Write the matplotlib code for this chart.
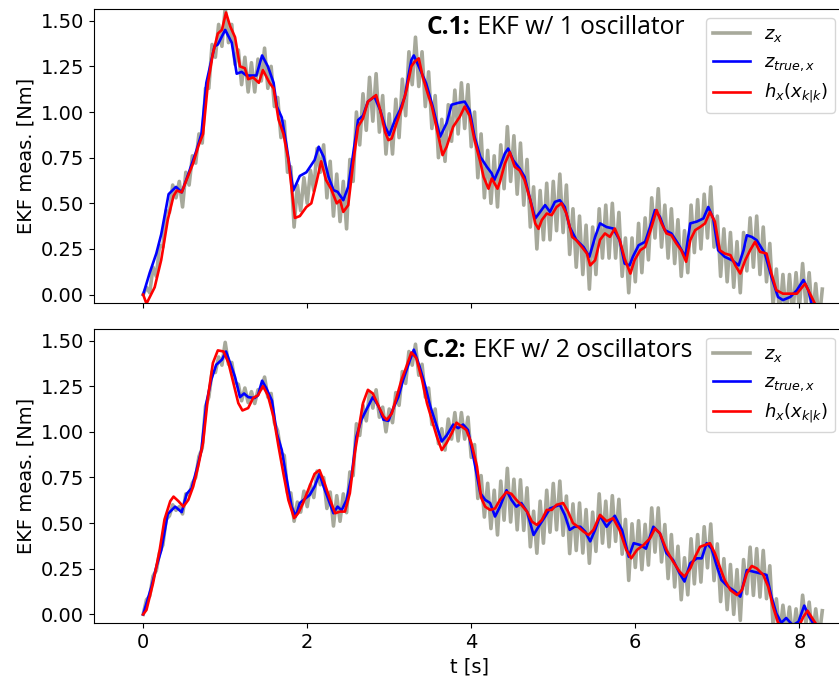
import numpy as np
import matplotlib
matplotlib.use("Agg")
import matplotlib.pyplot as plt

plt.rcParams['font.size'] = 14

# ---- panel C.1 (1 oscillator) ----
# z_true,x  (t [s], value [Nm])
true_1 = [(0.00, 0.00), (0.08, 0.12), (0.16, 0.225), (0.22, 0.33), (0.31, 0.55), (0.40, 0.59), (0.47, 0.56),
          (0.55, 0.66), (0.65, 0.79), (0.71, 0.88), (0.77, 1.16), (0.87, 1.36), (0.91, 1.37), (1.00, 1.45),
          (1.08, 1.38), (1.14, 1.21), (1.20, 1.22), (1.26, 1.20), (1.38, 1.20), (1.45, 1.31), (1.52, 1.25),
          (1.59, 1.16), (1.63, 1.03), (1.69, 0.97), (1.75, 0.81), (1.83, 0.57), (1.91, 0.65), (1.99, 0.67),
          (2.09, 0.737), (2.14, 0.81), (2.20, 0.755), (2.26, 0.645), (2.32, 0.572), (2.37, 0.563), (2.44, 0.517),
          (2.50, 0.59), (2.56, 0.77), (2.62, 0.956), (2.68, 0.98), (2.74, 1.057), (2.82, 1.084), (2.89, 1.01),
          (2.95, 0.92), (3.00, 0.874), (3.07, 0.956), (3.13, 1.01), (3.19, 1.084), (3.23, 1.19), (3.27, 1.285),
          (3.30, 1.31), (3.35, 1.26), (3.45, 1.157), (3.53, 1.03), (3.62, 0.865), (3.70, 0.94), (3.76, 1.04),
          (3.84, 1.05), (3.92, 1.057), (3.98, 1.01), (4.04, 0.865), (4.11, 0.755), (4.19, 0.70), (4.25, 0.664),
          (4.28, 0.627), (4.35, 0.70), (4.41, 0.773), (4.45, 0.80), (4.51, 0.737), (4.59, 0.69), (4.65, 0.645),
          (4.72, 0.517), (4.78, 0.417), (4.84, 0.453), (4.90, 0.49), (4.96, 0.453), (5.02, 0.508), (5.08, 0.517),
          (5.14, 0.48), (5.20, 0.37), (5.28, 0.30), (5.37, 0.26), (5.44, 0.207), (5.51, 0.316), (5.57, 0.39),
          (5.65, 0.37), (5.73, 0.362), (5.81, 0.298), (5.87, 0.17), (5.93, 0.16), (5.97, 0.207), (6.04, 0.27),
          (6.12, 0.289), (6.18, 0.37), (6.24, 0.463), (6.30, 0.426), (6.36, 0.353), (6.44, 0.335), (6.52, 0.28),
          (6.61, 0.207), (6.67, 0.39), (6.75, 0.40), (6.83, 0.417), (6.89, 0.48), (6.95, 0.417), (7.01, 0.243),
          (7.09, 0.207), (7.18, 0.188), (7.26, 0.16), (7.32, 0.243), (7.36, 0.325), (7.42, 0.316), (7.48, 0.298),
          (7.58, 0.225), (7.66, 0.097), (7.74, -0.013), (7.80, -0.03), (7.89, -0.013), (7.97, 0.024), (8.05, 0.08),
          (8.11, 0.024), (8.15, -0.05)]

# h_x(x_k|k)
est_1 = [(0.00, 0.00), (0.04, -0.05), (0.14, 0.04), (0.22, 0.19), (0.30, 0.41), (0.37, 0.54), (0.41, 0.57),
         (0.47, 0.56), (0.53, 0.63), (0.61, 0.72), (0.67, 0.81), (0.73, 0.88), (0.79, 1.16), (0.85, 1.32),
         (0.91, 1.43), (0.96, 1.45), (1.01, 1.545), (1.06, 1.47), (1.12, 1.41), (1.18, 1.25), (1.24, 1.24),
         (1.28, 1.18), (1.34, 1.19), (1.41, 1.16), (1.46, 1.23), (1.54, 1.16), (1.59, 1.13), (1.65, 0.96),
         (1.71, 0.88), (1.77, 0.74), (1.85, 0.42), (1.91, 0.43), (1.99, 0.48), (2.05, 0.50), (2.11, 0.61),
         (2.17, 0.73), (2.23, 0.627), (2.29, 0.58), (2.36, 0.50), (2.40, 0.517), (2.44, 0.453), (2.50, 0.49),
         (2.56, 0.72), (2.62, 0.92), (2.68, 0.965), (2.74, 1.057), (2.79, 1.075), (2.84, 1.093), (2.89, 1.01),
         (2.95, 0.89), (2.99, 0.846), (3.03, 0.855), (3.09, 0.94), (3.15, 1.02), (3.21, 1.12), (3.27, 1.25),
         (3.31, 1.276), (3.36, 1.294), (3.41, 1.19), (3.47, 1.10), (3.52, 1.03), (3.60, 0.865), (3.65, 0.764),
         (3.70, 0.81), (3.78, 0.92), (3.86, 0.974), (3.92, 1.03), (3.98, 0.98), (4.04, 0.846), (4.11, 0.727),
         (4.15, 0.645), (4.21, 0.58), (4.25, 0.636), (4.32, 0.58), (4.35, 0.618), (4.41, 0.718), (4.47, 0.78),
         (4.53, 0.70), (4.59, 0.68), (4.65, 0.627), (4.72, 0.517), (4.78, 0.39), (4.82, 0.36), (4.86, 0.408),
         (4.92, 0.444), (4.98, 0.435), (5.04, 0.48), (5.10, 0.50), (5.16, 0.444), (5.23, 0.316), (5.28, 0.298),
         (5.35, 0.26), (5.41, 0.225), (5.45, 0.16), (5.51, 0.188), (5.57, 0.30), (5.63, 0.335), (5.69, 0.316),
         (5.75, 0.362), (5.81, 0.298), (5.87, 0.197), (5.94, 0.115), (5.99, 0.188), (6.06, 0.243), (6.12, 0.261),
         (6.18, 0.344), (6.26, 0.463), (6.32, 0.39), (6.38, 0.335), (6.44, 0.325), (6.50, 0.28), (6.56, 0.243),
         (6.62, 0.18), (6.67, 0.298), (6.73, 0.353), (6.79, 0.37), (6.85, 0.39), (6.91, 0.453), (6.97, 0.40),
         (7.03, 0.243), (7.09, 0.225), (7.16, 0.216), (7.22, 0.16), (7.28, 0.115), (7.34, 0.188), (7.40, 0.243),
         (7.46, 0.289), (7.52, 0.234), (7.60, 0.225), (7.66, 0.115), (7.72, 0.024), (7.80, 0.005), (7.89, 0.005),
         (7.97, 0.005), (8.07, 0.06), (8.13, 0.005), (8.19, -0.05)]

# z_x, sampled every 0.04 s (peaks / troughs of the fast oscillation)
meas_1 = [0.00, 0.04, 0.01, 0.15, 0.10, 0.27, 0.26, 0.46, 0.45, 0.60, 0.53, 0.62, 0.48, 0.67, 0.60, 0.76,
          0.72, 0.88, 0.83, 1.13, 1.13, 1.37, 1.30, 1.48, 1.36, 1.57, 1.38, 1.48, 1.26, 1.34, 1.15, 1.30,
          1.11, 1.27, 1.11, 1.29, 1.17, 1.35, 1.13, 1.25, 1.03, 1.08, 0.86, 0.95, 0.67, 0.70, 0.37, 0.60,
          0.46, 0.64, 0.50, 0.68, 0.57, 0.80, 0.67, 0.82, 0.53, 0.73, 0.43, 0.66, 0.40, 0.62, 0.36, 0.74,
          0.62, 1.00, 0.82, 1.10, 0.90, 1.19, 0.95, 1.21, 0.89, 1.09, 0.77, 0.99, 0.77, 1.07, 0.86, 1.18,
          0.98, 1.33, 1.15, 1.41, 1.14, 1.33, 1.03, 1.22, 0.91, 1.09, 0.75, 0.96, 0.73, 1.04, 0.84, 1.12,
          0.88, 1.16, 0.91, 1.15, 0.81, 1.00, 0.64, 0.88, 0.53, 0.79, 0.50, 0.76, 0.48, 0.82, 0.58, 0.92,
          0.62, 0.87, 0.55, 0.83, 0.49, 0.74, 0.37, 0.59, 0.25, 0.57, 0.30, 0.61, 0.30, 0.62, 0.35, 0.66,
          0.34, 0.60, 0.22, 0.47, 0.15, 0.43, 0.11, 0.38, 0.03, 0.37, 0.11, 0.47, 0.20, 0.49, 0.20, 0.50,
          0.20, 0.45, 0.10, 0.31, 0.01, 0.31, 0.07, 0.39, 0.12, 0.42, 0.19, 0.53, 0.31, 0.58, 0.26, 0.49,
          0.20, 0.47, 0.17, 0.41, 0.10, 0.35, 0.12, 0.49, 0.23, 0.52, 0.25, 0.55, 0.31, 0.59, 0.26, 0.43,
          0.10, 0.36, 0.07, 0.34, 0.04, 0.29, 0.01, 0.34, 0.13, 0.42, 0.15, 0.43, 0.11, 0.37, 0.07, 0.28,
          -0.06, 0.14, -0.12, 0.11, -0.13, 0.11, -0.11, 0.12, -0.08, 0.17, -0.06, 0.12, -0.14, 0.06, -0.15, 0.03]

# ---- panel C.2 (2 oscillators) ----
true_2 = [(0.00, 0.00), (0.10, 0.15), (0.16, 0.26), (0.22, 0.35), (0.30, 0.55), (0.39, 0.59), (0.47, 0.56),
          (0.53, 0.66), (0.59, 0.69), (0.65, 0.79), (0.71, 0.90), (0.77, 1.157), (0.83, 1.285), (0.89, 1.367),
          (0.96, 1.395), (1.01, 1.44), (1.06, 1.377), (1.12, 1.30), (1.18, 1.19), (1.23, 1.21), (1.28, 1.19),
          (1.36, 1.185), (1.40, 1.20), (1.45, 1.28), (1.50, 1.24), (1.57, 1.17), (1.63, 0.99), (1.69, 0.90),
          (1.75, 0.74), (1.81, 0.59), (1.86, 0.536), (1.91, 0.61), (2.03, 0.654), (2.09, 0.70), (2.15, 0.77),
          (2.20, 0.70), (2.26, 0.627), (2.32, 0.554), (2.37, 0.59), (2.42, 0.57), (2.48, 0.627), (2.54, 0.755),
          (2.60, 0.974), (2.66, 1.066), (2.72, 1.12), (2.80, 1.19), (2.87, 1.14), (2.93, 1.066), (2.99, 1.06),
          (3.05, 1.13), (3.11, 1.19), (3.17, 1.285), (3.25, 1.39), (3.30, 1.45), (3.37, 1.357), (3.44, 1.25),
          (3.50, 1.14), (3.58, 1.03), (3.64, 0.947), (3.70, 0.98), (3.78, 1.04), (3.84, 1.02), (3.90, 1.04),
          (3.96, 1.01), (4.04, 0.83), (4.11, 0.664), (4.17, 0.627), (4.23, 0.61), (4.29, 0.536), (4.35, 0.59),
          (4.43, 0.68), (4.49, 0.627), (4.55, 0.59), (4.61, 0.61), (4.68, 0.563), (4.76, 0.435), (4.82, 0.48),
          (4.90, 0.536), (4.96, 0.58), (5.02, 0.59), (5.08, 0.60), (5.14, 0.545), (5.20, 0.463), (5.26, 0.48),
          (5.33, 0.48), (5.39, 0.453), (5.45, 0.40), (5.51, 0.463), (5.57, 0.54), (5.65, 0.48), (5.75, 0.54),
          (5.84, 0.46), (5.92, 0.316), (5.98, 0.39), (6.06, 0.38), (6.13, 0.36), (6.22, 0.48), (6.30, 0.444),
          (6.38, 0.335), (6.46, 0.298), (6.54, 0.225), (6.60, 0.18), (6.67, 0.28), (6.75, 0.307), (6.81, 0.307),
          (6.87, 0.39), (6.93, 0.36), (6.99, 0.27), (7.05, 0.188), (7.13, 0.152), (7.22, 0.124), (7.28, 0.097),
          (7.36, 0.243), (7.44, 0.234), (7.52, 0.225), (7.60, 0.216), (7.66, 0.097), (7.72, 0.005), (7.78, -0.046),
          (7.84, -0.02), (7.92, -0.06), (7.99, -0.04), (8.06, 0.048), (8.12, -0.013), (8.17, -0.05)]

est_2 = [(0.00, 0.00), (0.04, 0.024), (0.12, 0.17), (0.20, 0.35), (0.26, 0.52), (0.33, 0.62), (0.37, 0.645),
         (0.43, 0.62), (0.49, 0.59), (0.55, 0.627), (0.61, 0.70), (0.67, 0.81), (0.73, 0.94), (0.79, 1.19),
         (0.85, 1.377), (0.91, 1.446), (0.98, 1.44), (1.04, 1.377), (1.10, 1.267), (1.16, 1.157), (1.21, 1.117),
         (1.28, 1.13), (1.34, 1.185), (1.40, 1.20), (1.46, 1.25), (1.52, 1.20), (1.59, 1.08), (1.65, 0.92),
         (1.71, 0.77), (1.77, 0.627), (1.84, 0.527), (1.89, 0.554), (1.95, 0.61), (2.01, 0.68), (2.09, 0.77),
         (2.15, 0.79), (2.21, 0.72), (2.28, 0.627), (2.34, 0.554), (2.40, 0.563), (2.46, 0.563), (2.52, 0.664),
         (2.58, 0.883), (2.64, 1.05), (2.68, 1.157), (2.74, 1.23), (2.80, 1.21), (2.87, 1.14), (2.93, 1.084),
         (2.97, 1.066), (3.03, 1.10), (3.09, 1.19), (3.15, 1.285), (3.21, 1.358), (3.27, 1.435), (3.33, 1.404),
         (3.40, 1.285), (3.46, 1.157), (3.52, 1.066), (3.58, 0.974), (3.64, 0.90), (3.70, 0.94), (3.76, 0.99),
         (3.82, 1.05), (3.88, 1.03), (3.94, 1.01), (4.00, 0.94), (4.07, 0.81), (4.12, 0.64), (4.17, 0.59),
         (4.23, 0.572), (4.29, 0.58), (4.35, 0.627), (4.43, 0.67), (4.49, 0.66), (4.55, 0.627), (4.61, 0.60),
         (4.68, 0.563), (4.74, 0.508), (4.80, 0.49), (4.86, 0.517), (4.92, 0.572), (4.98, 0.572), (5.04, 0.60),
         (5.12, 0.61), (5.18, 0.563), (5.24, 0.50), (5.30, 0.48), (5.37, 0.453), (5.43, 0.435), (5.49, 0.463),
         (5.57, 0.545), (5.65, 0.51), (5.73, 0.527), (5.81, 0.46), (5.89, 0.353), (5.95, 0.307), (6.02, 0.353),
         (6.10, 0.38), (6.18, 0.417), (6.24, 0.47), (6.30, 0.444), (6.38, 0.353), (6.46, 0.29), (6.54, 0.234),
         (6.60, 0.207), (6.67, 0.252), (6.73, 0.316), (6.79, 0.37), (6.85, 0.38), (6.91, 0.39), (6.97, 0.335),
         (7.03, 0.26), (7.09, 0.188), (7.16, 0.133), (7.24, 0.106), (7.30, 0.133), (7.36, 0.225), (7.42, 0.265),
         (7.48, 0.252), (7.56, 0.216), (7.62, 0.152), (7.68, 0.042), (7.74, -0.046), (7.85, -0.08), (8.00, -0.06),
         (8.05, -0.013), (8.10, 0.02), (8.17, -0.03), (8.20, -0.05)]

meas_2 = [0.00, 0.08, 0.10, 0.21, 0.24, 0.34, 0.38, 0.52, 0.54, 0.60, 0.57, 0.59, 0.55, 0.66, 0.655, 0.72,
          0.75, 0.865, 0.91, 1.14, 1.19, 1.33, 1.325, 1.41, 1.365, 1.49, 1.37, 1.38, 1.27, 1.26, 1.17, 1.24,
          1.16, 1.22, 1.155, 1.23, 1.235, 1.30, 1.19, 1.21, 1.05, 1.005, 0.885, 0.87, 0.665, 0.665, 0.51, 0.615,
          0.56, 0.675, 0.59, 0.71, 0.64, 0.785, 0.71, 0.75, 0.58, 0.67, 0.484, 0.65, 0.51, 0.66, 0.557, 0.78,
          0.76, 1.044, 0.98, 1.145, 1.06, 1.215, 1.13, 1.23, 1.08, 1.135, 1.00, 1.125, 1.05, 1.215, 1.145, 1.33,
          1.265, 1.44, 1.365, 1.48, 1.31, 1.37, 1.19, 1.24, 1.04, 1.125, 0.935, 1.017, 0.90, 1.07, 0.96, 1.105,
          0.95, 1.105, 0.96, 1.08, 0.86, 0.93, 0.635, 0.76, 0.533, 0.718, 0.47, 0.68, 0.435, 0.73, 0.516, 0.80,
          0.506, 0.74, 0.463, 0.737, 0.46, 0.693, 0.37, 0.565, 0.335, 0.62, 0.39, 0.68, 0.45, 0.717, 0.463, 0.73,
          0.433, 0.648, 0.333, 0.605, 0.35, 0.61, 0.336, 0.574, 0.28, 0.56, 0.345, 0.66, 0.39, 0.62, 0.37, 0.65,
          0.40, 0.63, 0.33, 0.52, 0.186, 0.496, 0.257, 0.513, 0.245, 0.493, 0.27, 0.583, 0.341, 0.583, 0.287, 0.492,
          0.196, 0.437, 0.15, 0.373, 0.08, 0.31, 0.107, 0.414, 0.167, 0.437, 0.177, 0.48, 0.255, 0.495, 0.185, 0.386,
          0.07, 0.305, 0.026, 0.273, 0.0, 0.245, -0.033, 0.30, 0.113, 0.368, 0.104, 0.36, 0.095, 0.35, 0.086, 0.266,
          -0.064, 0.085, -0.11, 0.05, -0.10, 0.04, -0.14, 0.03, -0.11, 0.105, -0.05, 0.067, -0.125, 0.03, -0.13, 0.02]

dt_meas = 0.04
panels = [("C.1:", " EKF w/ 1 oscillator", meas_1, true_1, est_1, 1.465),
          ("C.2:", " EKF w/ 2 oscillators", meas_2, true_2, est_2, 1.445)]

gray = '#a7a99b'
title_font = ['Open Sans', 'DejaVu Sans']

fig, axes = plt.subplots(2, 1, figsize=(8.39, 6.84), dpi=100, sharex=True)
# right edge sits slightly outside the saved image (the original was cropped)
fig.subplots_adjust(left=0.112, right=1.006, top=0.987, bottom=0.089, hspace=0.086)

for ax, (bold, rest, meas, true, est, ty) in zip(axes, panels):
    t_meas = np.arange(len(meas)) * dt_meas
    t_true, z_true = np.array(true).T
    t_est, h_est = np.array(est).T
    ax.plot(t_meas, meas, color=gray, lw=2.6, label=r'$z_x$')
    ax.plot(t_true, z_true, color='blue', lw=1.9, label=r'$z_{true,x}$')
    ax.plot(t_est, h_est, color='red', lw=1.9, label=r'$h_x(x_{k|k})$')
    ax.set_xlim(-0.6, 8.545)
    ax.set_ylim(-0.048, 1.565)
    ax.set_yticks([0, 0.25, 0.5, 0.75, 1.0, 1.25, 1.5])
    ax.set_ylabel('EKF meas. [Nm]')
    ax.legend(loc='upper right', fontsize=13)
    # title inside the axes: bold tag + regular text
    ax.text(0.0, ty, bold, transform=ax.get_yaxis_transform(), fontsize=17.7, family=title_font,
            fontweight='bold', va='center', ha='left')
    ax.text(0.0, ty, rest, transform=ax.get_yaxis_transform(), fontsize=17.7, family=title_font,
            va='center', ha='left')

axes[1].set_xticks([0, 2, 4, 6, 8])
axes[1].set_xlabel('t [s]')

# place the titles so that they end just left of the legend
fig.canvas.draw()
r = fig.canvas.get_renderer()
for ax, ends in zip(axes, [684, 692]):
    tb, tr = ax.texts
    wb = tb.get_window_extent(r).width
    wr = tr.get_window_extent(r).width
    x0 = ends - wb - wr
    inv = ax.transAxes.inverted()
    tb.set_x(inv.transform((x0, 0))[0])
    tr.set_x(inv.transform((x0 + wb, 0))[0])

fig.savefig('out.png', dpi=100)
